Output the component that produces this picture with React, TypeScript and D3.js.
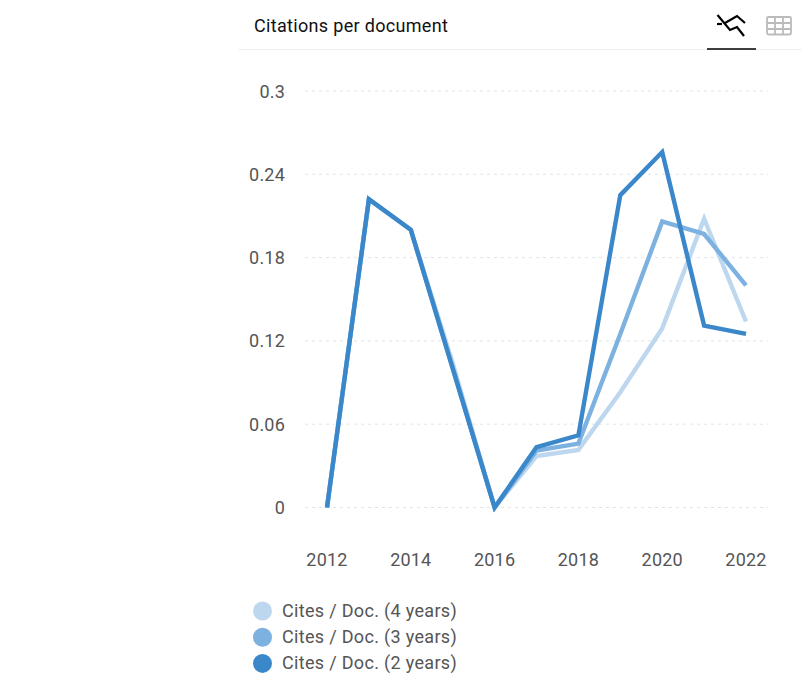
import React from "react";
import * as d3 from "d3";

const years = [2012, 2013, 2014, 2015, 2016, 2017, 2018, 2019, 2020, 2021, 2022];
const cites4 = [0, 0.222, 0.2, 0.104, 0, 0.037, 0.0415, 0.083, 0.129, 0.208, 0.134];
const cites3 = [0, 0.222, 0.2, 0.101, 0, 0.041, 0.046, 0.125, 0.206, 0.197, 0.16];
const cites2 = [0, 0.222, 0.2, 0.1, 0, 0.0435, 0.052, 0.225, 0.256, 0.131, 0.125];
const yTicks = [0, 0.06, 0.12, 0.18, 0.24, 0.3];
const xTicks = [2012, 2014, 2016, 2018, 2020, 2022];
const seriesNames = ["Cites / Doc. (4 years)", "Cites / Doc. (3 years)", "Cites / Doc. (2 years)"];
const seriesValues = [cites4, cites3, cites2];
const colors = ["#bdd7ef", "#7db1e0", "#3a87ca"];

const FONT = "Roboto, sans-serif";

export default function App() {
  const x = d3.scaleLinear().domain([2012, 2022]).range([327, 746]);
  const y = d3.scaleLinear().domain([0, 0.3]).range([507.5, 91]);
  const line = d3
    .line<number>()
    .x((_, i) => x(years[i]))
    .y((d) => y(d));

  return (
    <svg
      width={809}
      height={683}
      style={{ position: "absolute", left: 0, top: 0, display: "block", background: "#fff" }}
      fontFamily={FONT}
    >
      <text x={254} y={32} fontSize={18} letterSpacing={0.32} fill="#111">Citations per document</text>
      <line x1={238} x2={802} y1={49.5} y2={49.5} stroke="#f0f0f0" strokeWidth={1} />
      <line x1={707} x2={756} y1={49} y2={49} stroke="#000" strokeWidth={1.5} />

      {/* chart-mode icon */}
      <g fill="none" stroke="#000" strokeWidth={2.2}>
        <path d="M717.5 15 L730 30 L737 27 L744 36" />
        <path d="M717 24 L722 24" />
        <path d="M725 23 L737 16 L745 23" />
      </g>
      {/* table icon */}
      <g fill="none" stroke="#bbb" strokeWidth={1.8}>
        <rect x={767} y={17} width={24} height={17.5} rx={1.5} />
        <path d="M767 23 H791 M767 29 H791 M775 17 V34.5 M783 17 V34.5" />
      </g>

      {yTicks.map((t) => (
        <g key={t}>
          <line x1={305} x2={768} y1={y(t)} y2={y(t)} stroke="#e4e4e4" strokeWidth={1} strokeDasharray="3 4" />
          <text x={285} y={y(t) + 6.5} fontSize={18} letterSpacing={0.2} fill="#555" textAnchor="end">{String(t)}</text>
        </g>
      ))}
      {xTicks.map((t) => (
        <text key={t} x={x(t)} y={565.5} fontSize={18} letterSpacing={0.2} fill="#555" textAnchor="middle">{t}</text>
      ))}

      {seriesValues.map((vals, i) => (
        <path
          key={seriesNames[i]}
          d={line(vals) ?? ""}
          fill="none"
          stroke={colors[i]}
          strokeWidth={4.4}
          strokeLinejoin="miter"
        />
      ))}

      {seriesNames.map((name, i) => {
        const cy = 611 + i * 26.2;
        return (
          <g key={name}>
            <circle cx={262.5} cy={cy} r={9.5} fill={colors[i]} />
            <text x={282} y={cy + 5.5} fontSize={18} letterSpacing={0.32} fill="#555">{name}</text>
          </g>
        );
      })}
    </svg>
  );
}
